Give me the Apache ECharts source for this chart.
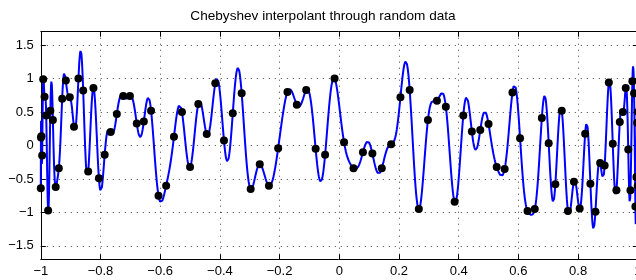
<!DOCTYPE html>
<html><head><meta charset="utf-8">
<script src="https://cdn.jsdelivr.net/npm/echarts@6/dist/echarts.min.js"></script>
<style>html,body{margin:0;padding:0;background:#fff}#c{width:636px;height:280px}</style>
</head><body><div id="c"></div>
<script>
const chartTitle = 'Chebyshev interpolant through random data';
const xTicks = [-1, -0.8, -0.6, -0.4, -0.2, 0, 0.2, 0.4, 0.6, 0.8, 1];
const yTicks = [-1.5, -1, -0.5, 0, 0.5, 1, 1.5];
// data values at the Chebyshev points, left (x=-1) to right (x=1)
const values = [
  -0.64, 0.12, 0.14, -0.15, 0.99, 0.73, 0.45, -0.97, 0.52, 0.38,
  -0.62, -0.34, 0.70, 0.97, 0.72, 0.28, 1.00, 0.82, -0.39, 0.86,
  -0.49, -0.14, 0.20, 0.47, 0.74, 0.74, 0.33, 0.36, 0.52, -0.75,
  -0.60, 0.13, 0.50, -0.32, 0.62, 0.17, 0.93, 0.075, 0.48, 0.78,
  -0.65, -0.28, -0.60, -0.04, 0.80, 0.61, 0.83, -0.05, -0.14, 1.00,
  0.05, -0.34, -0.10, -0.12, -0.34, 0.02, 0.72, 0.83, -0.95, 0.38,
  0.67, 0.58, -0.84, 0.45, 0.21, 0.23, 0.32, -0.32, -0.35, 0.79,
  0.11, -0.98, -0.95, 0.41, 0.035, -0.58, 0.52, -0.98, -0.54, -0.94,
  0.175, -0.57, -0.99, -0.26, -0.30, 0.94, 0.025, -0.67, 0.35, 0.50,
  0.86, -0.06, -0.67, 0.96, 0.78, -0.91, -0.47, 0.34, -0.60, 0.50
];

const n = values.length - 1;
const nodes = values.map((_, j) => -Math.cos(j * Math.PI / n));
const weights = values.map((_, j) => ((j % 2) ? -1 : 1) * ((j === 0 || j === n) ? 0.5 : 1));
function interpolant(x) {
  let num = 0, den = 0;
  for (let j = 0; j <= n; j++) {
    const d = x - nodes[j];
    if (Math.abs(d) < 1e-14) return values[j];
    const t = weights[j] / d;
    num += t * values[j];
    den += t;
  }
  return num / den;
}
const curve = [];
const M = 4000;
for (let k = 0; k <= M; k++) {
  const x = -Math.cos(k * Math.PI / M);
  curve.push([x, interpolant(x)]);
}
const points = values.map((v, j) => [nodes[j], v]);

const fmt = v => { const r = Math.round(v * 10) / 10; return r < 0 ? '\u2212' + Math.abs(r) : String(r); };
const font = 'Liberation Sans';
const lab = { color: '#000', fontFamily: font, fontSize: 13 };
const grid = { left: 40.8, right: -1.8, top: 31.7, bottom: 20.7, outerBoundsMode: 'none', containLabel: false };
const axLine = { show: true, onZero: false, lineStyle: { color: '#000', width: 1 } };
const dotted = { show: true, lineStyle: { color: '#000', width: 1, type: [1, 5], opacity: 0.75 } };

const chart = echarts.init(document.getElementById('c'));
chart.setOption({
  animation: false,
  title: { text: chartTitle, left: 318, textAlign: 'center', top: 4, textStyle: { fontFamily: font, fontSize: 13.6, fontWeight: 'normal', color: '#000' } },
  grid: grid,
  xAxis: [
    { type: 'value', min: -1, max: 1, interval: 0.2, position: 'bottom', axisLine: axLine,
      axisTick: { show: true, inside: true, length: 5, lineStyle: { color: '#000' } },
      axisLabel: Object.assign({ margin: 6, formatter: fmt, showMinLabel: true, showMaxLabel: true }, lab),
      splitLine: dotted },
    { type: 'value', min: -1, max: 1, interval: 0.2, position: 'top', axisLine: axLine,
      axisTick: { show: true, inside: true, length: 5, lineStyle: { color: '#000' } },
      axisLabel: { show: false }, splitLine: { show: false } }
  ],
  yAxis: [
    { type: 'value', min: -1.7, max: 1.7, position: 'left', axisLine: axLine,
      axisTick: { show: true, inside: true, length: 5, customValues: yTicks, lineStyle: { color: '#000' } },
      axisLabel: Object.assign({ margin: 7, formatter: fmt, customValues: yTicks }, lab),
      splitLine: dotted },
    { type: 'value', min: -1.7, max: 1.7, position: 'right', axisLine: axLine,
      axisTick: { show: true, inside: true, length: 5, customValues: yTicks, lineStyle: { color: '#000' } },
      axisLabel: { show: false }, splitLine: { show: false } }
  ],
  series: [
    { type: 'line', data: curve, xAxisIndex: 0, yAxisIndex: 0, showSymbol: false, symbol: 'none',
      lineStyle: { color: '#0000ff', width: 2 }, z: 2, silent: true },
    { type: 'scatter', data: points, xAxisIndex: 0, yAxisIndex: 0, symbol: 'circle', symbolSize: 8,
      itemStyle: { color: '#000', opacity: 1 }, z: 3, silent: true }
  ]
});
</script>
</body></html>
